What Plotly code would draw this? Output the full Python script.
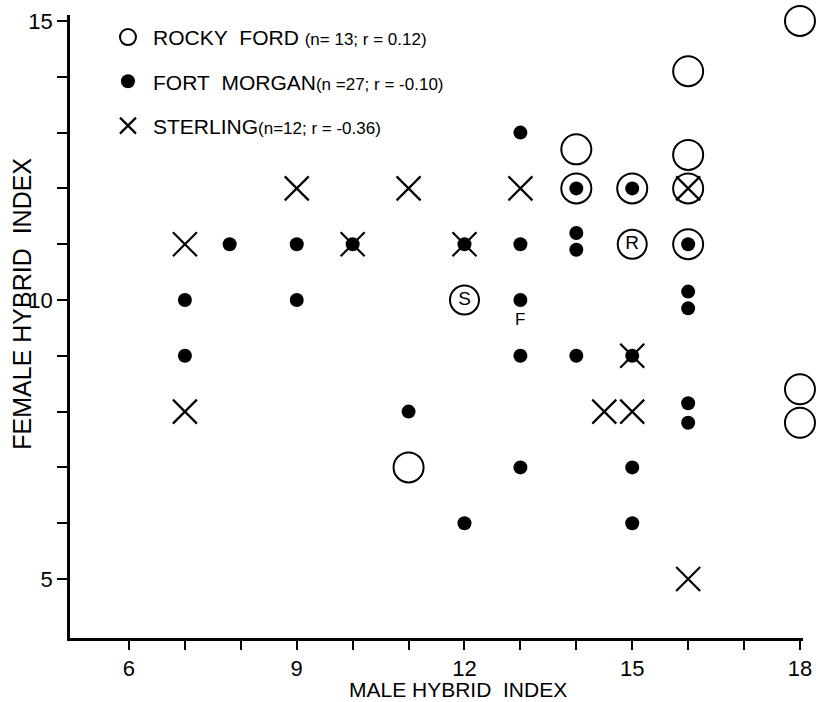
import plotly.graph_objects as go

# ---- data ----
RF_X = [18, 16, 16, 16, 16, 14, 14, 15, 11, 18, 18]
RF_Y = [15, 14.1, 12.6, 12, 11, 12.7, 12, 12, 7, 8.4, 7.8]

FM_X = [7.8, 7, 7, 9, 9, 10, 11, 12, 12, 13, 13, 13, 13, 13,
        14, 14, 14, 14, 15, 15, 15, 15, 16, 16, 16, 16, 16]
FM_Y = [11, 10, 9, 11, 10, 11, 8, 11, 6, 13, 11, 10, 9, 7,
        12, 11.2, 10.9, 9, 12, 9, 7, 6, 11, 10.15, 9.85, 8.15, 7.8]

ST_X = [7, 7, 9, 10, 11, 12, 13, 15, 14.5, 15, 16, 16]
ST_Y = [11, 8, 12, 11, 12, 11, 12, 9, 8, 8, 12, 5]

MEAN_LABELS = ["S", "R"]
MEAN_X = [12, 15]
MEAN_Y = [10, 11]
FM_MEAN_LABEL = "F"
FM_MEAN_X = 13
FM_MEAN_Y = 10

SERIES_NAMES = ["ROCKY\u00a0\u00a0FORD", "FORT\u00a0\u00a0MORGAN", "STERLING"]
SERIES_STATS = ["(n=\u00a013;\u00a0r\u00a0=\u00a00.12)", "(n\u00a0=27;\u00a0r\u00a0=\u00a0-0.10)",
                "(n=12;\u00a0r\u00a0=\u00a0-0.36)"]

X_TICKS = list(range(6, 19))
X_LABELS = ["6", "", "", "9", "", "", "12", "", "", "15", "", "", "18"]
Y_TICKS = list(range(5, 16))
Y_LABELS = ["5", "", "", "", "", "10", "", "", "", "", "15"]

FONT = "Liberation Sans, Arial, Helvetica, sans-serif"


def legend_name(i, gap=""):
    return f"{SERIES_NAMES[i]}{gap}<span style='font-size:17px'>{SERIES_STATS[i]}</span>"


fig = go.Figure()

fig.add_trace(go.Scatter(
    x=RF_X, y=RF_Y, mode="markers", name=legend_name(0, " "), legendgroup="rf",
    marker=dict(symbol="circle-open", size=30, color="black",
                line=dict(width=2, color="black")),
    cliponaxis=False))

fig.add_trace(go.Scatter(
    x=FM_X, y=FM_Y, mode="markers", name=legend_name(1), legendgroup="fm",
    marker=dict(symbol="circle", size=14, color="black", line=dict(width=0)),
    cliponaxis=False))

fig.add_trace(go.Scatter(
    x=ST_X, y=ST_Y, mode="markers", name=legend_name(2), legendgroup="st",
    marker=dict(symbol="x-thin-open", size=24, color="black",
                line=dict(width=2.2, color="black")),
    cliponaxis=False))

fig.add_trace(go.Scatter(
    x=MEAN_X, y=MEAN_Y, mode="markers+text", text=MEAN_LABELS,
    textposition="middle center", showlegend=False,
    textfont=dict(family=FONT, size=19, color="black"),
    marker=dict(symbol="circle-open", size=29, color="black",
                line=dict(width=2, color="black")),
    cliponaxis=False))

fig.add_annotation(x=FM_MEAN_X, y=FM_MEAN_Y, text=FM_MEAN_LABEL, showarrow=False,
                   yshift=-20, font=dict(family=FONT, size=17, color="black"))

fig.add_annotation(xref="paper", yref="paper", x=0.529, y=-0.0827,
                   text="MALE HYBRID\u00a0\u00a0INDEX", showarrow=False,
                   xanchor="center", yanchor="middle", borderpad=0,
                   font=dict(family=FONT, size=21, color="black"))
fig.add_annotation(xref="paper", yref="paper", x=-0.066, y=0.536,
                   text="FEMALE HYBRID\u00a0\u00a0INDEX", showarrow=False, textangle=-90,
                   xanchor="center", yanchor="middle",
                   font=dict(family=FONT, size=25, color="black"))

axis_common = dict(showgrid=False, zeroline=False, showline=True, linewidth=2.5,
                   linecolor="black", ticks="outside", tickwidth=2, tickcolor="black",
                   automargin=False,
                   tickfont=dict(family=FONT, size=22, color="black"))

fig.update_xaxes(range=[4.945, 18.054], tickmode="array", tickvals=X_TICKS,
                 ticktext=X_LABELS, ticklen=9, **axis_common)
fig.update_yaxes(range=[3.943, 15.107], tickmode="array", tickvals=Y_TICKS,
                 ticktext=Y_LABELS, ticklen=10, **axis_common)

fig.update_layout(
    width=816, height=702,
    margin=dict(l=70, r=13, t=15, b=64, autoexpand=False),
    paper_bgcolor="white", plot_bgcolor="white",
    font=dict(family=FONT, color="black"),
    showlegend=True,
    legend=dict(x=0.045, y=0.997, xanchor="left", yanchor="top",
                bgcolor="rgba(0,0,0,0)", font=dict(family=FONT, size=21, color="black"),
                itemwidth=40, tracegroupgap=14, traceorder="grouped"),
)

# remove the default page margin so the 816x702 figure fills the window exactly
fig.write_html("out.html",
               config={"displayModeBar": False},
               post_script="document.body.style.margin='0';document.body.style.overflow='hidden';")
